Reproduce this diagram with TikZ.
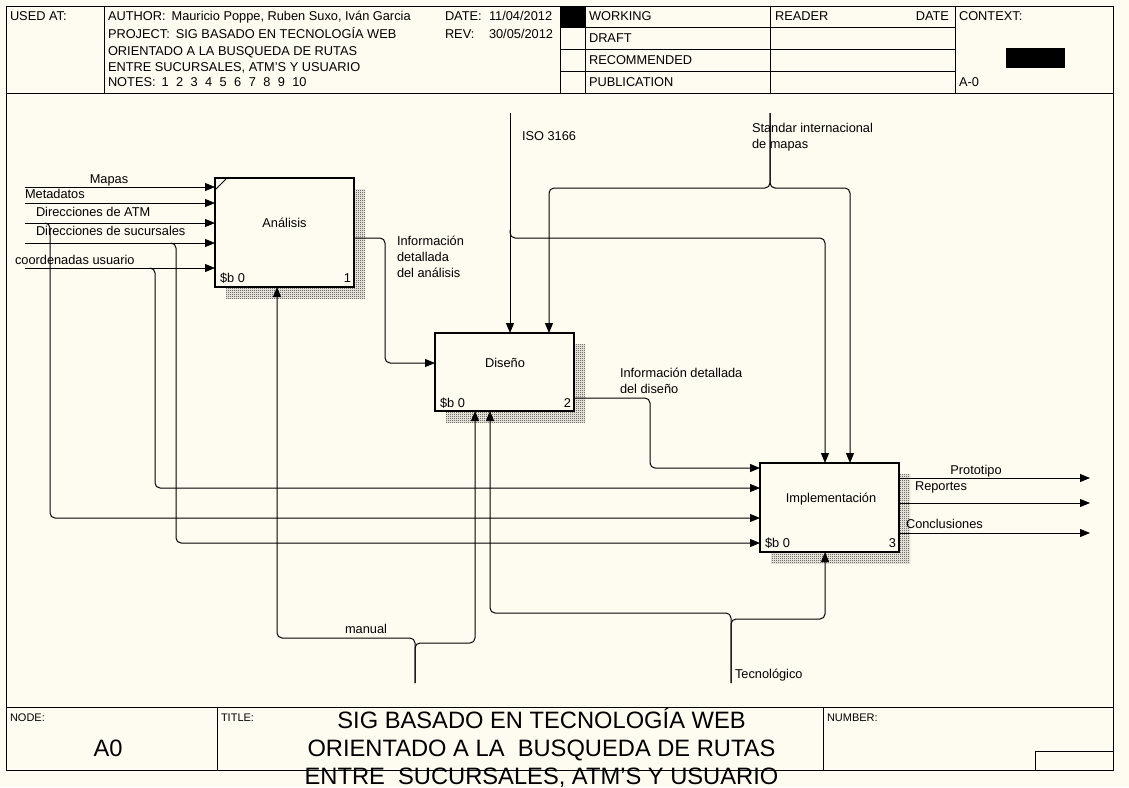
\documentclass[tikz,border=0pt]{standalone}
\usepackage{fontspec}
\setmainfont{Liberation Sans}
\usetikzlibrary{arrows.meta,calc,shadows,patterns}
\definecolor{bg}{RGB}{254,251,240}
\pgfdeclarepatternformonly{checker}{\pgfpointorigin}{\pgfpoint{2pt}{2pt}}{\pgfpoint{2pt}{2pt}}{%
  \pgfpathrectangle{\pgfpointorigin}{\pgfpoint{1pt}{1pt}}%
  \pgfpathrectangle{\pgfpoint{1pt}{1pt}}{\pgfpoint{1pt}{1pt}}%
  \pgfusepath{fill}}
\begin{document}
\begin{tikzpicture}[x=1pt,y=-1pt,
  every node/.style={inner sep=0pt, outer sep=0pt},
  font=\fontsize{12.8}{16}\selectfont,
  frame/.style={line width=1pt},
  conn/.style={line width=1pt, rounded corners=5pt},
  arr/.style={conn, -{Triangle[length=10pt,width=8pt]}},
  act/.style={draw, fill=bg, line width=2.5pt, minimum width=139pt,
    drop shadow={shadow xshift=11pt, shadow yshift=-11pt, pattern=checker, pattern color=black!85, opacity=1}},
  lw/.style={anchor=base west},
  lb/.style={anchor=base},
  le/.style={anchor=base east},
  small/.style={font=\fontsize{11}{13}\selectfont},
  big/.style={font=\fontsize{23.7}{28}\selectfont}]
\useasboundingbox[fill=bg] (0,0) rectangle (1129,787);
% ---------------- frame ----------------
\draw[frame] (6,6) rectangle (1113,770);
\draw[frame] (6,93) -- (1113,93);
\foreach \x in {104,560,585,770,955} \draw[frame] (\x,6) -- (\x,93);
\foreach \y in {27,49,71} \draw[frame] (560,\y) -- (955,\y);
\fill (560,6) rectangle (585,27);
\fill (1006,48) rectangle (1065,68);
\draw[frame] (6,707) -- (1113,707);
\draw[frame] (217,707) -- (217,770);
\draw[frame] (823,707) -- (823,770);
\draw[frame] (1035,770) -- (1035,751) -- (1113,751);
% header texts
\node[lw] (usedat) at (10,20.5) {USED AT:};
\node[lw] (author) at (108,20.5) {AUTHOR:\hspace{6pt}Mauricio Poppe, Ruben Suxo, Iván Garcia};
\node[lw] (date) at (445,20.5) {\makebox[44pt][l]{DATE:}11/04/2012};
\node[lw] (project) at (108,38.5) {PROJECT:\hspace{6pt}SIG BASADO EN TECNOLOGÍA WEB};
\node[lw] (rev) at (445,38.5) {\makebox[44pt][l]{REV:}30/05/2012};
\node[lw] (proj2) at (108,55.5) {ORIENTADO A LA BUSQUEDA DE RUTAS};
\node[lw] (proj3) at (108,71.5) {ENTRE SUCURSALES, ATM'S Y USUARIO};
\node[lw] (notes) at (108,86.5) {NOTES:\hspace{6pt}1\hspace{7.4pt}2\hspace{7.4pt}3\hspace{7.4pt}4\hspace{7.4pt}5\hspace{7.4pt}6\hspace{7.4pt}7\hspace{7.4pt}8\hspace{7.4pt}9\hspace{7.4pt}10};
\node[lw] (working) at (589,20.5) {WORKING};
\node[lw] (draft) at (589,42.5) {DRAFT};
\node[lw] (recom) at (589,64.5) {RECOMMENDED};
\node[lw] (public) at (589,86.5) {PUBLICATION};
\node[lw] (reader) at (775,20.5) {READER};
\node[le] (rdate) at (949,20.5) {DATE};
\node[lw] (context) at (959,20.5) {CONTEXT:};
\node[lw] (a0ctx) at (959,86.5) {A-0};
% footer texts
\node[lw,small] (nodelbl) at (10,721) {NODE:};
\node[lw,small] (titlelbl) at (221,721) {TITLE:};
\node[lw,small] (numlbl) at (827,721) {NUMBER:};
\node[lb,big] (a0) at (108,756.5) {A0};
\node[big, align=center, anchor=north] (title) at (541.5,708) {SIG BASADO EN TECNOLOGÍA WEB\\ORIENTADO A LA\ \ BUSQUEDA DE RUTAS\\ENTRE\ \ SUCURSALES, ATM’S Y USUARIO};
% ---------------- activity boxes ----------------
\node[act, minimum height=109pt] (A1) at (284.5,232.5) {};
\node[act, minimum height=78pt] (A2) at (504.5,372) {};
\node[act, minimum height=89pt] (A3) at (829.5,507.5) {};
\draw[line width=1pt] ($(A1.north west)+(0,12)$) -- ($(A1.north west)+(12,0)$);
\node[lb] (A1t) at (284.5,227.5) {Análisis};
\node[lw] (A1b) at (220,282.5) {\$b 0};
\node[le] (A1n) at (351,282.5) {1};
\node[lb] (A2t) at (505,367.5) {Diseño};
\node[lw] (A2b) at (440,407.5) {\$b 0};
\node[le] (A2n) at (571,407.5) {2};
\node[lb] (A3t) at (831,502.5) {Implementación};
\node[lw] (A3b) at (765,547.5) {\$b 0};
\node[le] (A3n) at (896,547.5) {3};
% attachment points
\coordinate (A1i1) at ($(A1.north west)+(0,9)$);
\coordinate (A1i2) at ($(A1.north west)+(0,25)$);
\coordinate (A1i3) at ($(A1.north west)+(0,45)$);
\coordinate (A1i4) at ($(A1.north west)+(0,65)$);
\coordinate (A1i5) at ($(A1.north west)+(0,90)$);
\coordinate (A1o) at ($(A1.north east)+(0,60)$);
\coordinate (A1m) at ($(A1.south west)+(62,0)$);
\coordinate (A2i) at ($(A2.north west)+(0,30)$);
\coordinate (A2c1) at ($(A2.north west)+(75,0)$);
\coordinate (A2c2) at ($(A2.north west)+(114,0)$);
\coordinate (A2o) at ($(A2.north east)+(0,65)$);
\coordinate (A2m1) at ($(A2.south west)+(40,0)$);
\coordinate (A2m2) at ($(A2.south west)+(55,0)$);
\coordinate (A3i1) at ($(A3.north west)+(0,5)$);
\coordinate (A3i2) at ($(A3.north west)+(0,25)$);
\coordinate (A3i3) at ($(A3.north west)+(0,55)$);
\coordinate (A3i4) at ($(A3.north west)+(0,80)$);
\coordinate (A3c1) at ($(A3.north west)+(65,0)$);
\coordinate (A3c2) at ($(A3.north west)+(90,0)$);
\coordinate (A3o1) at ($(A3.north east)+(0,15)$);
\coordinate (A3o2) at ($(A3.north east)+(0,40)$);
\coordinate (A3o3) at ($(A3.north east)+(0,70)$);
\coordinate (A3m) at ($(A3.south west)+(65,0)$);
% free ends
\coordinate (mapS) at (25,187);
\coordinate (metS) at (25,203);
\coordinate (atmS) at (25,223);
\coordinate (sucS) at (25,243);
\coordinate (cooS) at (25,268);
\coordinate (isoT) at (510,113);
\coordinate (stdT) at (770,113);
\coordinate (manB) at (415,683);
\coordinate (tecB) at (731,683);
% ---------------- inputs ----------------
\draw[arr] (mapS) -- (A1i1);
\draw[arr] (metS) -- (A1i2);
\draw[arr] (atmS) -- (A1i3);
\draw[arr] (sucS) -- (A1i4);
\draw[arr] (cooS) -- (A1i5);
\draw[arr] ($(atmS)+(20,0)$) -| ($(A3i3)+(-710,0)$) -- (A3i3);
\draw[arr] ($(sucS)+(146,0)$) -| ($(A3i4)+(-584,0)$) -- (A3i4);
\draw[arr] ($(cooS)+(125,0)$) -| ($(A3i2)+(-605,0)$) -- (A3i2);
\node[lb] (mapL) at (109,183.5) {Mapas};
\node[lw] (metL) at (25,198.5) {Metadatos};
\node[lw] (atmL) at (36,216.5) {Direcciones de ATM};
\node[lw] (sucL) at (36,235.5) {Direcciones de sucursales};
\node[lw] (cooL) at (15,264.5) {coordenadas usuario};
% ---------------- internal flows ----------------
\draw[arr] (A1o) -- ++(31,0) |- (A2i);
\node[align=left, anchor=north west] (A1oL) at (397,236) {Información\\detallada\\del análisis};
\draw[arr] (A2o) -- ++(76,0) |- (A3i1);
\node[align=left, anchor=north west] (A2oL) at (620,368) {Información detallada\\del diseño};
% ---------------- controls ----------------
\draw[arr] (isoT) -- (A2c1);
\draw[arr] ($(isoT)+(0,117)$) |- ($(A3c1)+(0,-225)$) -- (A3c1);
\node[lw] (isoL) at (522,140.5) {ISO 3166};
\draw[arr] (stdT) -- ++(0,75) -| (A2c2);
\draw[arr] (stdT) -- ++(0,75) -| (A3c2);
\node[align=left, anchor=north west] (stdL) at (752,123) {Standar internacional\\de mapas};
% ---------------- mechanisms ----------------
\draw[arr] (manB) -- ++(0,-45) -| (A1m);
\draw[arr] (manB) -- ++(0,-40) -| (A2m1);
\node[lb] (manL) at (366,633.5) {manual};
\draw[arr] (tecB) -- ++(0,-70) -| (A2m2);
\draw[arr] (tecB) -- ++(0,-64) -| (A3m);
\node[lw] (tecL) at (735,678.5) {Tecnológico};
% ---------------- outputs ----------------
\draw[arr] (A3o1) -- ++(191,0) coordinate (p1);
\draw[arr] (A3o2) -- ++(191,0) coordinate (p2);
\draw[arr] (A3o3) -- ++(191,0) coordinate (p3);
\node[lb] (p1L) at (976,474.5) {Prototipo};
\node[lw] (p2L) at (915,490.5) {Reportes};
\node[lw] (p3L) at (906,528.5) {Conclusiones};
\end{tikzpicture}
\end{document}
